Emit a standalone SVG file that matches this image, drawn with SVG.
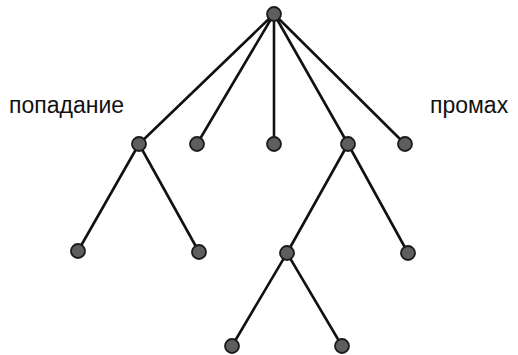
<svg xmlns="http://www.w3.org/2000/svg" width="518" height="355" viewBox="0 0 518 355">
<style>
.edge{stroke:#111;stroke-width:2.6;stroke-linecap:round;fill:none}
.node{fill:#5e5e5e;stroke:#1a1a1a;stroke-width:1.8}
.lbl{font-family:"Liberation Sans",Arial,sans-serif;font-size:23px;fill:#111}
</style>
<rect width="518" height="355" fill="#fff"/>
<g id="connectors">
<line class="edge" x1="274" y1="14" x2="139" y2="144"/>
<line class="edge" x1="274" y1="14" x2="197" y2="144"/>
<line class="edge" x1="274" y1="14" x2="274" y2="144"/>
<line class="edge" x1="274" y1="14" x2="348" y2="144"/>
<line class="edge" x1="274" y1="14" x2="405" y2="144"/>
<line class="edge" x1="139" y1="144" x2="78" y2="251"/>
<line class="edge" x1="139" y1="144" x2="199" y2="252"/>
<line class="edge" x1="348" y1="144" x2="287" y2="253"/>
<line class="edge" x1="348" y1="144" x2="408" y2="253"/>
<line class="edge" x1="287" y1="253" x2="232" y2="346"/>
<line class="edge" x1="287" y1="253" x2="342" y2="346"/>
</g>
<g id="root"><circle class="node" cx="274" cy="14" r="7"/></g>
<g id="n1"><circle class="node" cx="139" cy="144" r="7"/></g>
<g id="n2"><circle class="node" cx="197" cy="144" r="7"/></g>
<g id="n3"><circle class="node" cx="274" cy="144" r="7"/></g>
<g id="n4"><circle class="node" cx="348" cy="144" r="7"/></g>
<g id="n5"><circle class="node" cx="405" cy="144" r="7"/></g>
<g id="n11"><circle class="node" cx="78" cy="251" r="7"/></g>
<g id="n12"><circle class="node" cx="199" cy="252" r="7"/></g>
<g id="n41"><circle class="node" cx="287" cy="253" r="7"/></g>
<g id="n42"><circle class="node" cx="408" cy="253" r="7"/></g>
<g id="n411"><circle class="node" cx="232" cy="346" r="7"/></g>
<g id="n412"><circle class="node" cx="342" cy="346" r="7"/></g>
<g id="labels">
<text class="lbl" x="9" y="113">попадание</text>
<text class="lbl" x="430" y="113">промах</text>
</g>
</svg>
